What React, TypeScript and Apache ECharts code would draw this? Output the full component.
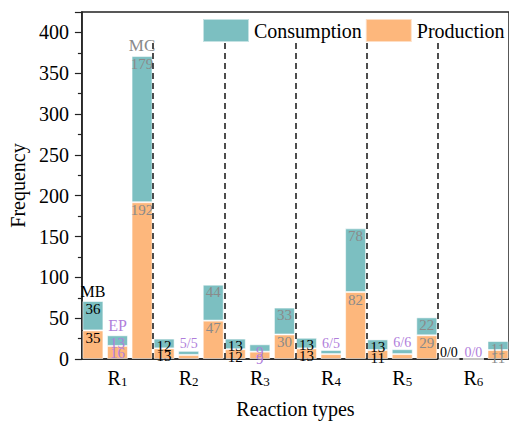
import React, { useEffect, useRef } from "react";
import * as echarts from "echarts";

const categories = ["R1", "R2", "R3", "R4", "R5", "R6"];
const mbProduction = [35, 13, 12, 13, 11, 0];
const mbConsumption = [36, 12, 13, 13, 13, 0];
const epProduction = [16, 5, 9, 6, 6, 0];
const epConsumption = [13, 5, 9, 5, 6, 0];
const mcProduction = [192, 47, 30, 82, 29, 11];
const mcConsumption = [179, 44, 33, 78, 22, 11];
const mbTopLabels = ["MB", "", "", "", "", "0/0"];
const epTopLabels = ["EP", "5/5", "", "6/5", "6/6", "0/0"];
const mcTopLabels = ["MC", "", "", "", "", ""];
const epInside = [true, false, true, false, false, false];
const separators = [1, 2, 3, 4, 5];
const yTicks = { min: 0, max: 425, interval: 50 };

const FONT = "'Liberation Serif', 'DejaVu Serif', serif";
const TEAL = "#7CBFC1";
const ORANGE = "#FDB77C";
const MB_COLOR = "#000000";
const EP_COLOR = "#B07EDB";
const MC_COLOR = "#8A8A8A";

export default function App() {
  const ref = useRef<HTMLDivElement>(null);
  useEffect(() => {
    if (!ref.current) return;
    const chart = echarts.init(ref.current, null, { renderer: "svg" });
    const border = { borderColor: "rgba(255,255,255,0.55)", borderWidth: 1 };
    const valueSeries = (
      name: string,
      stack: string,
      values: number[],
      color: string,
      labelColor: string,
      showFn: (i: number) => boolean
    ) => ({
      type: "bar",
      name,
      stack,
      barWidth: 21,
      barGap: "17%",
      itemStyle: { color, ...border },
      data: values.map((v, i) => ({
        value: v,
        label: { show: showFn(i) },
      })),
      label: {
        position: "insideTop",
        distance: 0,
        color: labelColor,
        fontSize: 15,
        fontFamily: FONT,
      },
    });
    const topSeries = (stack: string, texts: string[], color: string, nameSize: number) => ({
      type: "bar",
      name: "label-" + stack,
      stack,
      barWidth: 21,
      barGap: "17%",
      itemStyle: { color: "rgba(0,0,0,0)" },
      data: texts.map((t) => ({
        value: 0,
        label: {
          show: t !== "",
          fontSize: t.includes("/") ? 14 : nameSize,
          distance: t.includes("/") ? 0 : 2,
        },
      })),
      label: {
        position: "top",
        color,
        fontFamily: FONT,
        formatter: (p: any) => texts[p.dataIndex],
      },
    });

    chart.setOption({
      animation: false,
      textStyle: { fontFamily: FONT },
      grid: {
        left: 75,
        top: 12,
        width: 440,
        height: 350,
        show: true,
        borderColor: "#222",
        borderWidth: 1.5,
        backgroundColor: "transparent",
      },
      legend: {
        data: ["Consumption", "Production"],
        left: 202,
        top: 18,
        padding: 0,
        itemWidth: 46,
        itemHeight: 23,
        itemGap: 3,
        icon: "rect",
        textStyle: { fontSize: 20, color: "#000", fontFamily: FONT },
      },
      xAxis: [
        {
          type: "category",
          data: categories,
          name: "Reaction types",
          nameLocation: "middle",
          nameGap: 40,
          nameTextStyle: { fontSize: 20, color: "#000", fontFamily: FONT },
          axisLine: { lineStyle: { color: "#222", width: 1.5 } },
          axisTick: { inside: true, length: 5, lineStyle: { color: "#222", width: 1.2 } },
          axisLabel: {
            margin: 9,
            fontFamily: FONT,
            formatter: (v: string) => `{r|${v.slice(0, 1)}}{s|${v.slice(1)}}`,
            rich: {
              r: { fontSize: 20, lineHeight: 20, verticalAlign: "top", color: "#000", fontFamily: FONT },
              s: { fontSize: 13, lineHeight: 13, padding: [11, 0, 0, 0], verticalAlign: "bottom", color: "#000", fontFamily: FONT },
            },
          },
        },
        { type: "value", min: 0, max: 6, show: false, gridIndex: 0 },
      ],
      yAxis: {
        type: "value",
        min: yTicks.min,
        max: yTicks.max,
        interval: yTicks.interval,
        name: "Frequency",
        nameLocation: "middle",
        nameGap: 45,
        nameTextStyle: { fontSize: 20, color: "#000", fontFamily: FONT },
        axisLine: { show: true, lineStyle: { color: "#222", width: 1.5 } },
        axisTick: { show: true, length: 7, lineStyle: { color: "#222", width: 1.2 } },
        minorTick: { show: true, splitNumber: 2, length: 4, lineStyle: { color: "#222", width: 1.2 } },
        splitLine: { show: false },
        axisLabel: { fontSize: 20, color: "#000", margin: 13, showMaxLabel: false, fontFamily: FONT },
      },
      series: [
        valueSeries("Production", "MB", mbProduction, ORANGE, MB_COLOR, (i) => mbProduction[i] > 0),
        valueSeries("Consumption", "MB", mbConsumption, TEAL, MB_COLOR, (i) => mbConsumption[i] > 0),
        topSeries("MB", mbTopLabels, MB_COLOR, 16),
        valueSeries("Production", "EP", epProduction, ORANGE, EP_COLOR, (i) => epInside[i]),
        valueSeries("Consumption", "EP", epConsumption, TEAL, EP_COLOR, (i) => epInside[i]),
        topSeries("EP", epTopLabels, EP_COLOR, 16),
        valueSeries("Production", "MC", mcProduction, ORANGE, MC_COLOR, (i) => mcProduction[i] > 0),
        valueSeries("Consumption", "MC", mcConsumption, TEAL, MC_COLOR, (i) => mcConsumption[i] > 0),
        topSeries("MC", mcTopLabels, MC_COLOR, 17),
        {
          type: "scatter",
          name: "separators",
          xAxisIndex: 1,
          yAxisIndex: 0,
          symbolSize: 0,
          data: [],
          markLine: {
            silent: true,
            symbol: ["none", "none"],
            label: { show: false },
            lineStyle: { color: "#222", width: 1.6, type: [6, 4] },
            data: separators.map((s) => [
              { coord: [s, 387] },
              { coord: [s, 0] },
            ]),
          },
        },
      ],
    });
    return () => chart.dispose();
  }, []);
  return (
    <div
      ref={ref}
      style={{ position: "fixed", left: 0, top: 0, width: 509, height: 424, background: "#fff" }}
    />
  );
}
